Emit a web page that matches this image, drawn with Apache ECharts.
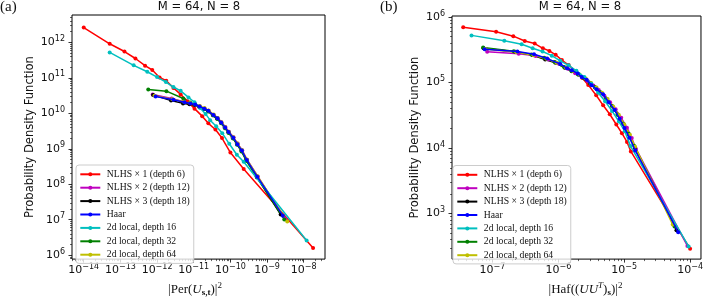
<!DOCTYPE html>
<html><head><meta charset="utf-8">
<script src="https://cdn.jsdelivr.net/npm/echarts@6/dist/echarts.min.js"></script>
<style>html,body{margin:0;padding:0;background:#fff}#c{width:706px;height:302px}</style>
</head><body><div id="c"></div>
<script>
const seriesNames = ['NLHS × 1 (depth 6)', 'NLHS × 2 (depth 12)', 'NLHS × 3 (depth 18)', 'Haar', '2d local, depth 16', '2d local, depth 32', '2d local, depth 64'];
const seriesColors = ['#ff0000', '#bf00bf', '#000000', '#0000ff', '#00bfbf', '#008000', '#bfbf00'];
const seriesZ = [2, 2, 2, 4, 3, 2, 2];
const panelTitle = 'M = 64, N = 8';

const perTicksX = [1e-14, 1e-13, 1e-12, 1e-11, 1e-10, 1e-9, 1e-8];
const perTicksY = [1e6, 1e7, 1e8, 1e9, 1e10, 1e11, 1e12];
const hafTicksX = [1e-7, 1e-6, 1e-5, 1e-4];
const hafTicksY = [1e3, 1e4, 1e5, 1e6];

// Panel (a): |Per(U_s,t)|^2 vs PDF
const perNLHS1 = [[1.0e-14,2.6e12],[5.1e-14,9.1e11],[1.29e-13,5.5e11],[2.57e-13,3.5e11],[4.7e-13,2.2e11],[7.4e-13,1.66e11],[1.17e-12,1.02e11],[1.78e-12,8.3e10],[2.8e-12,5.2e10],[4.4e-12,3.4e10],[6.8e-12,2.2e10],[1.05e-11,1.35e10],[1.7e-11,8.3e9],[2.5e-11,5.2e9],[3.9e-11,3.5e9],[5.9e-11,2.0e9],[1.0e-10,7.8e8],[2.3e-10,2.7e8],[1.8e-8,1.6e6]];
const perNLHS2 = [[7.6e-13,3.4e10],[2.5e-12,2.6e10],[5.3e-12,2.1e10],[7.9e-12,1.93e10],[1.08e-11,1.78e10],[1.45e-11,1.57e10],[1.98e-11,1.37e10],[2.55e-11,1.18e10],[3.5e-11,9.0e9],[4.5e-11,7.3e9],[5.7e-11,5.6e9],[7.3e-11,4.1e9],[9.1e-11,3.0e9],[1.22e-10,2.1e9],[1.58e-10,1.4e9],[2.1e-10,9.1e8],[2.85e-10,4.9e8],[5.6e-10,1.65e8],[3.1e-9,1.07e7]];
const perNLHS3 = [[7.8e-13,3.3e10],[2.4e-12,2.3e10],[5.1e-12,1.9e10],[7.6e-12,1.8e10],[1.05e-11,1.7e10],[1.4e-11,1.52e10],[1.9e-11,1.33e10],[2.45e-11,1.15e10],[3.3e-11,8.9e9],[4.3e-11,7.1e9],[5.5e-11,5.4e9],[7.0e-11,4.0e9],[8.8e-11,2.9e9],[1.15e-10,2.05e9],[1.5e-10,1.38e9],[2.0e-10,9.0e8],[2.7e-10,4.9e8],[5.2e-10,1.65e8],[2.35e-9,1.4e7]];
const perHaar = [[9.1e-13,2.95e10],[2.8e-12,2.4e10],[5.6e-12,2.04e10],[8.1e-12,1.9e10],[1.1e-11,1.77e10],[1.44e-11,1.55e10],[1.95e-11,1.35e10],[2.5e-11,1.17e10],[3.45e-11,8.9e9],[4.45e-11,7.2e9],[5.6e-11,5.5e9],[7.2e-11,4.0e9],[8.9e-11,2.95e9],[1.2e-10,2.05e9],[1.55e-10,1.35e9],[2.05e-10,8.9e8],[2.8e-10,4.8e8],[5.4e-10,1.63e8],[2.7e-9,1.3e7]];
const perLocal16 = [[5.1e-14,5.2e11],[2.3e-13,2.25e11],[5.4e-13,1.48e11],[1.0e-12,1.05e11],[1.74e-12,7.6e10],[2.8e-12,5.5e10],[4.4e-12,4.3e10],[7.2e-12,2.8e10],[1.05e-11,2.05e10],[1.5e-11,1.4e10],[2.1e-11,9.6e9],[2.8e-11,6.4e9],[4.1e-11,4.3e9],[6.0e-11,2.75e9],[9.3e-11,1.38e9],[1.5e-10,6.8e8],[2.3e-10,4.3e8],[1.2e-8,2.6e6]];
const perLocal32 = [[5.75e-13,4.7e10],[1.8e-12,4.2e10],[5.2e-12,2.6e10],[8.0e-12,2.0e10],[1.1e-11,1.78e10],[1.45e-11,1.54e10],[1.95e-11,1.33e10],[2.5e-11,1.13e10],[3.4e-11,8.6e9],[4.4e-11,6.9e9],[5.6e-11,5.2e9],[7.1e-11,3.8e9],[8.9e-11,2.8e9],[1.18e-10,1.95e9],[1.52e-10,1.3e9],[2.0e-10,8.4e8],[2.75e-10,4.5e8],[5.3e-10,1.55e8],[2.95e-9,1.02e7]];
const perLocal64 = [[8.5e-13,3.1e10],[2.6e-12,2.5e10],[5.4e-12,2.1e10],[8.0e-12,1.95e10],[1.1e-11,1.8e10],[1.46e-11,1.6e10],[1.97e-11,1.4e10],[2.55e-11,1.2e10],[3.5e-11,9.2e9],[4.5e-11,7.4e9],[5.7e-11,5.6e9],[7.2e-11,4.1e9],[9.0e-11,3.0e9],[1.2e-10,2.1e9],[1.56e-10,1.4e9],[2.05e-10,9.2e8],[2.8e-10,5.0e8],[5.5e-10,1.68e8],[3.55e-9,8.9e6]];

// Panel (b): |Haf((UU^T)_s)|^2 vs PDF
const hafNLHS1 = [[3.59e-8,7.0e5],[1.135e-7,5.94e5],[2.07e-7,5.1e5],[3.09e-7,4.3e5],[4.37e-7,3.93e5],[5.82e-7,3.33e5],[7.3e-7,3.04e5],[9.1e-7,2.65e5],[1.13e-6,2.2e5],[1.43e-6,1.85e5],[1.82e-6,1.49e5],[2.31e-6,1.17e5],[2.84e-6,9.2e4],[3.75e-6,6.4e4],[4.78e-6,4.49e4],[6.03e-6,3.28e4],[7.58e-6,2.29e4],[9.2e-6,1.69e4],[1.1e-5,1.24e4],[1.26e-5,8.9e3],[1.0e-4,290]];
const hafNLHS2 = [[8.3e-8,2.96e5],[2.5e-7,2.75e5],[4.5e-7,2.55e5],[7.0e-7,2.25e5],[1.0e-6,1.95e5],[1.4e-6,1.62e5],[1.8e-6,1.38e5],[2.3e-6,1.2e5],[2.8e-6,1.05e5],[3.4e-6,9.0e4],[4.1e-6,7.7e4],[5.0e-6,6.3e4],[6.1e-6,5.0e4],[7.4e-6,3.9e4],[9.0e-6,2.9e4],[1.1e-5,2.05e4],[1.3e-5,1.42e4],[1.51e-5,9.7e3],[9.1e-5,321]];
const hafNLHS3 = [[7.3e-8,3.33e5],[2.2e-7,2.95e5],[4.0e-7,2.62e5],[6.3e-7,2.25e5],[9.0e-7,2.0e5],[1.25e-6,1.68e5],[1.6e-6,1.48e5],[2.0e-6,1.32e5],[2.5e-6,1.15e5],[3.0e-6,9.8e4],[3.6e-6,8.4e4],[4.4e-6,7.0e4],[5.4e-6,5.6e4],[6.6e-6,4.3e4],[8.0e-6,3.2e4],[9.7e-6,2.3e4],[1.18e-5,1.6e4],[1.45e-5,1.0e4],[6.2e-5,557]];
const hafHaar = [[7.6e-8,3.22e5],[2.39e-7,2.97e5],[4.27e-7,2.7e5],[6.75e-7,2.32e5],[1.07e-6,1.92e5],[1.35e-6,1.65e5],[1.6e-6,1.54e5],[1.97e-6,1.37e5],[2.26e-6,1.21e5],[2.69e-6,1.1e5],[3.19e-6,9.1e4],[3.8e-6,7.9e4],[4.78e-6,6.6e4],[5.82e-6,5.0e4],[7.16e-6,3.82e4],[8.5e-6,2.81e4],[1.01e-5,2.02e4],[1.2e-5,1.44e4],[1.47e-5,9.2e3],[6.6e-5,520]];
const hafLocal16 = [[4.8e-8,5.24e5],[1.51e-7,4.35e5],[2.77e-7,3.83e5],[4.07e-7,3.34e5],[5.75e-7,2.97e5],[7.94e-7,2.57e5],[1.07e-6,2.14e5],[1.43e-6,1.83e5],[1.88e-6,1.51e5],[2.48e-6,1.21e5],[3.16e-6,9.6e4],[4.02e-6,7.0e4],[5.12e-6,5.19e4],[6.52e-6,3.69e4],[8.3e-6,2.54e4],[1.02e-5,1.81e4],[1.24e-5,1.08e4],[9.5e-5,315]];
const hafLocal32 = [[7.2e-8,3.43e5],[2.1e-7,3.0e5],[3.9e-7,2.68e5],[6.1e-7,2.38e5],[8.8e-7,2.05e5],[1.22e-6,1.72e5],[1.58e-6,1.5e5],[2.0e-6,1.33e5],[2.45e-6,1.16e5],[3.0e-6,9.9e4],[3.6e-6,8.5e4],[4.35e-6,7.1e4],[5.3e-6,5.7e4],[6.5e-6,4.4e4],[7.9e-6,3.25e4],[9.6e-6,2.35e4],[1.17e-5,1.65e4],[1.42e-5,1.08e4],[5.8e-5,634]];
const hafLocal64 = [[7.8e-8,3.25e5],[2.3e-7,2.9e5],[4.2e-7,2.6e5],[6.6e-7,2.3e5],[9.4e-7,2.0e5],[1.3e-6,1.69e5],[1.68e-6,1.5e5],[2.1e-6,1.32e5],[2.6e-6,1.15e5],[3.15e-6,9.8e4],[3.8e-6,8.4e4],[4.6e-6,7.0e4],[5.6e-6,5.6e4],[6.8e-6,4.3e4],[8.3e-6,3.2e4],[1.0e-5,2.3e4],[1.22e-5,1.6e4],[1.46e-5,1.05e4],[5.45e-5,680]];

const perSeries = [perNLHS1, perNLHS2, perNLHS3, perHaar, perLocal16, perLocal32, perLocal64];
const hafSeries = [hafNLHS1, hafNLHS2, hafNLHS3, hafHaar, hafLocal16, hafLocal32, hafLocal64];

// axis ranges
const perXRange = [Math.pow(10, -14.32), Math.pow(10, -7.42)];
const perYRange = [Math.pow(10, 5.89), Math.pow(10, 12.77)];
const hafXRange = [Math.pow(10, -7.615), Math.pow(10, -3.835)];
const hafYRange = [Math.pow(10, 2.306), Math.pow(10, 6.015)];

function minorTicks(range) {
  const out = [];
  const a = Math.floor(Math.log10(range[0])), b = Math.ceil(Math.log10(range[1]));
  for (let n = a; n <= b; n++) for (let k = 2; k <= 9; k++) {
    const v = k * Math.pow(10, n);
    if (v >= range[0] && v <= range[1]) out.push(v);
  }
  return out;
}
function powLabel(v) {
  const e = Math.round(Math.log10(v));
  return '{b|10}{s|' + (e < 0 ? '\u2212' + (-e) : String(e)) + '}';
}
const labelRich = {
  b: { fontSize: 11, fontFamily: 'DejaVu Sans', color: '#111' },
  s: { fontSize: 8, fontFamily: 'DejaVu Sans', color: '#111', padding: [0, 0, 7, 0] }
};
const mathRich = {
  i: { fontStyle: 'italic', fontSize: 13, fontFamily: 'Liberation Serif', color: '#111' },
  sb: { fontWeight: 'bold', fontSize: 9, fontFamily: 'Liberation Serif', color: '#111', padding: [6, 0, 0, 0] },
  sp: { fontSize: 9, fontFamily: 'Liberation Serif', color: '#111', padding: [0, 0, 8, 0] },
  si: { fontStyle: 'italic', fontSize: 9, fontFamily: 'Liberation Serif', color: '#111', padding: [0, 0, 8, 0] }
};

function mainAxis(kind, gridIndex, range, ticks, extra) {
  const ax = {
    type: 'log', logBase: 10, gridIndex, min: range[0], max: range[1],
    position: kind === 'x' ? 'bottom' : 'left',
    axisLine: { show: false },
    axisTick: { show: true, length: 3.5, customValues: ticks, lineStyle: { color: '#000', width: 0.8 } },
    axisLabel: { show: true, customValues: ticks, formatter: powLabel, rich: labelRich, margin: kind === 'x' ? 4 : 7, color: '#111' },
    splitLine: { show: false }, minorTick: { show: false }, minorSplitLine: { show: false }
  };
  return Object.assign(ax, extra || {});
}
function minorAxis(kind, gridIndex, range) {
  return {
    type: 'log', logBase: 10, gridIndex, min: range[0], max: range[1],
    position: kind === 'x' ? 'bottom' : 'left', offset: 0,
    axisLine: { show: false },
    axisTick: { show: true, length: 2, customValues: minorTicks(range), lineStyle: { color: '#000', width: 0.6 } },
    axisLabel: { show: false },
    splitLine: { show: false }
  };
}
const yName = {
  name: 'Probability Density Function', nameLocation: 'middle',
  nameTextStyle: { fontFamily: 'DejaVu Sans', fontSize: 11.6, color: '#111' }
};

function mk(data, i, xi, yi) {
  return {
    type: 'line', name: seriesNames[i], xAxisIndex: xi, yAxisIndex: yi, data,
    symbol: 'circle', symbolSize: 4, showSymbol: true, z: seriesZ[i],
    lineStyle: { width: 1.5, color: seriesColors[i] },
    itemStyle: { color: seriesColors[i] },
    emphasis: { disabled: true }, silent: true, animation: false
  };
}
const series = [];
perSeries.forEach((d, i) => series.push(mk(d, i, 0, 0)));
hafSeries.forEach((d, i) => series.push(mk(d, i, 2, 2)));

const legendBase = {
  orient: 'vertical', data: seriesNames, itemWidth: 20, itemHeight: 5, itemGap: 0, z: 10,
  selectedMode: false, backgroundColor: 'rgba(255,255,255,0.8)', borderColor: '#cccccc',
  borderWidth: 1, borderRadius: 3, padding: [2.6, 4, 2, 3.3],
  textStyle: { fontFamily: 'Liberation Serif', fontSize: 9.7, color: '#111', lineHeight: 13.4, padding: [0, 0, 0, 1.5] }
};

const chart = echarts.init(document.getElementById('c'), null, { renderer: 'canvas' });
chart.setOption({
  animation: false,
  backgroundColor: '#ffffff',
  title: [
    { text: panelTitle, left: 199, top: 1, textAlign: 'center', padding: 0, textStyle: { fontFamily: 'DejaVu Sans', fontSize: 11.6, fontWeight: 'normal', color: '#111' } },
    { text: panelTitle, left: 580, top: 1, textAlign: 'center', padding: 0, textStyle: { fontFamily: 'DejaVu Sans', fontSize: 11.6, fontWeight: 'normal', color: '#111' } },
    { text: '(a)', left: 0, top: 0, padding: 0, textStyle: { fontFamily: 'Liberation Serif', fontSize: 15, fontWeight: 'normal', color: '#111' } },
    { text: '(b)', left: 380, top: 0, padding: 0, textStyle: { fontFamily: 'Liberation Serif', fontSize: 15, fontWeight: 'normal', color: '#111' } }
  ],
  grid: [
    { left: 72, top: 15, width: 253, height: 252, show: true, borderColor: '#000', borderWidth: 1, backgroundColor: 'transparent', containLabel: false },
    { left: 452, top: 16, width: 252, height: 251, show: true, borderColor: '#000', borderWidth: 1, backgroundColor: 'transparent', containLabel: false }
  ],
  xAxis: [
    mainAxis('x', 0, perXRange, perTicksX, {
      name: '|Per({i|U}{sb|s,t})|{sp|2}', nameLocation: 'middle', nameGap: 20,
      nameTextStyle: { fontFamily: 'Liberation Serif', fontSize: 13, color: '#111', rich: mathRich, padding: [0, 7, 0, 0] }
    }),
    minorAxis('x', 0, perXRange),
    mainAxis('x', 1, hafXRange, hafTicksX, {
      name: '|Haf(({i|UU}{si|T}){sb|s})|{sp|2}', nameLocation: 'middle', nameGap: 20,
      nameTextStyle: { fontFamily: 'Liberation Serif', fontSize: 13, color: '#111', rich: mathRich, padding: [0, 0, 0, 18] }
    }),
    minorAxis('x', 1, hafXRange)
  ],
  yAxis: [
    mainAxis('y', 0, perYRange, perTicksY, Object.assign({}, yName, { nameGap: 36 })),
    minorAxis('y', 0, perYRange),
    mainAxis('y', 1, hafYRange, hafTicksY, Object.assign({}, yName, { nameGap: 31 })),
    minorAxis('y', 1, hafYRange)
  ],
  legend: [
    Object.assign({}, legendBase, { left: 76, top: 165 }),
    Object.assign({}, legendBase, { left: 453, top: 165.5 })
  ],
  series
});
</script>
</body></html>
